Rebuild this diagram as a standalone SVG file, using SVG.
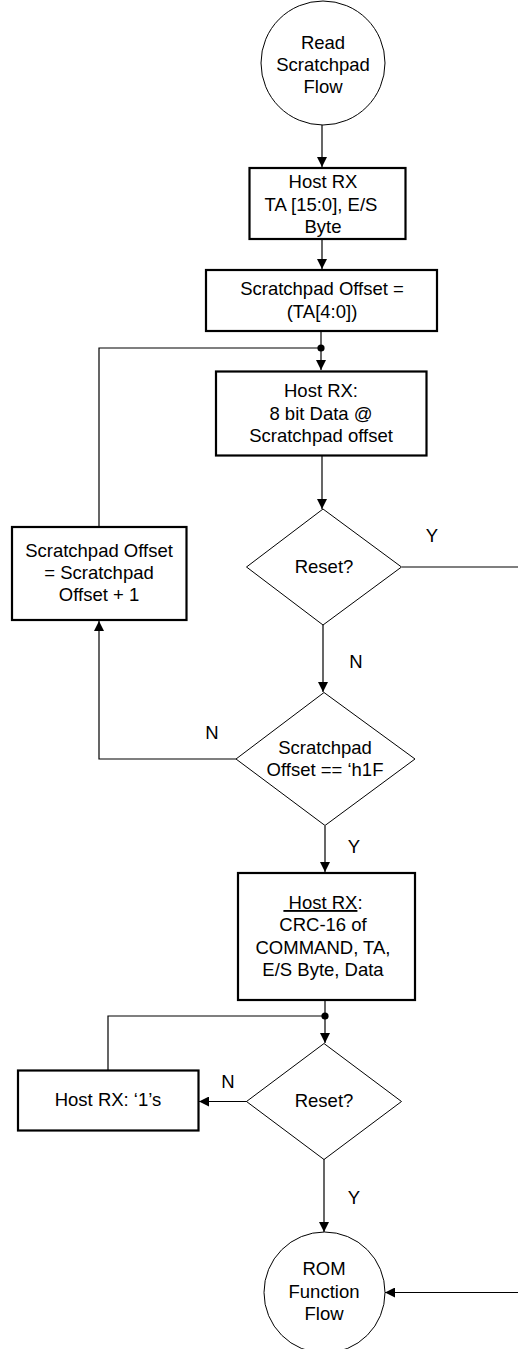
<svg xmlns="http://www.w3.org/2000/svg" width="518" height="1349" viewBox="0 0 518 1349">
<style>
text{font-family:"Liberation Sans",Arial,Helvetica,sans-serif;font-size:18.5px;fill:#000;text-anchor:middle}
.box{fill:#fff;stroke:#000;stroke-width:2.2}
.thin{fill:#fff;stroke:#000;stroke-width:1}
.ln{fill:none;stroke:#000;stroke-width:1.2}
</style>
<defs>
<marker id="ah" viewBox="0 0 10 10" refX="10" refY="5" markerWidth="10" markerHeight="10" markerUnits="userSpaceOnUse" orient="auto">
<path d="M0,0 L10,5 L0,10 Z" fill="#000"/>
</marker>
</defs>
<rect width="518" height="1349" fill="#fff"/>
<g id="connectors">
<line class="ln" x1="322" y1="125" x2="322" y2="167" marker-end="url(#ah)"/>
<line class="ln" x1="322" y1="239" x2="322" y2="269" marker-end="url(#ah)"/>
<line class="ln" x1="321" y1="331" x2="321" y2="370" marker-end="url(#ah)"/>
<polyline class="ln" points="99,527 99,348 321,348"/>
<circle cx="321" cy="348" r="3.6" fill="#000"/>
<line class="ln" x1="322" y1="456" x2="322" y2="509" marker-end="url(#ah)"/>
<line class="ln" x1="402" y1="567" x2="518" y2="567"/>
<line class="ln" x1="323" y1="625" x2="323" y2="692" marker-end="url(#ah)"/>
<polyline class="ln" points="236,759 99,759 99,621" marker-end="url(#ah)"/>
<line class="ln" x1="325" y1="826" x2="325" y2="872" marker-end="url(#ah)"/>
<line class="ln" x1="325" y1="1000" x2="325" y2="1043" marker-end="url(#ah)"/>
<polyline class="ln" points="108,1070 108,1016 325,1016"/>
<circle cx="325" cy="1016" r="3.6" fill="#000"/>
<line class="ln" x1="247" y1="1101.5" x2="199" y2="1101.5" marker-end="url(#ah)"/>
<line class="ln" x1="324" y1="1159" x2="324" y2="1232" marker-end="url(#ah)"/>
<line class="ln" x1="518" y1="1292.5" x2="385" y2="1292.5" marker-end="url(#ah)"/>
<text x="432" y="542">Y</text>
<text x="356" y="668">N</text>
<text x="212" y="739">N</text>
<text x="354" y="853">Y</text>
<text x="228" y="1088">N</text>
<text x="354" y="1204">Y</text>
</g>
<g id="start">
<circle class="thin" cx="323" cy="63" r="62"/>
<text x="323" y="49">Read</text>
<text x="323" y="71">Scratchpad</text>
<text x="323" y="93">Flow</text>
</g>
<g id="host-rx-ta">
<rect class="box" x="249.5" y="168" width="156" height="71"/>
<text x="323" y="188">Host RX</text>
<text x="321" y="211">TA [15:0], E/S</text>
<text x="323" y="233">Byte</text>
</g>
<g id="offset-init">
<rect class="box" x="206" y="270" width="231" height="61"/>
<text x="322" y="295">Scratchpad Offset =</text>
<text x="322" y="318">(TA[4:0])</text>
</g>
<g id="host-rx-data">
<rect class="box" x="216" y="371.5" width="210.5" height="84"/>
<text x="321" y="397">Host RX:</text>
<text x="321" y="420">8 bit Data @</text>
<text x="321" y="442">Scratchpad offset</text>
</g>
<g id="reset1">
<polygon class="thin" points="323,509 401.5,567 323,625 246.5,567"/>
<text x="324" y="573">Reset?</text>
</g>
<g id="offset-inc">
<rect class="box" x="12" y="527" width="174.5" height="93"/>
<text x="99" y="557">Scratchpad Offset</text>
<text x="99" y="579">= Scratchpad</text>
<text x="99" y="601">Offset + 1</text>
</g>
<g id="offset-check">
<polygon class="thin" points="324,692.5 415,759 325,825.5 236,759"/>
<text x="325" y="754">Scratchpad</text>
<text x="325" y="776">Offset == ‘h1F</text>
</g>
<g id="host-rx-crc">
<rect class="box" x="238" y="873" width="177" height="127"/>
<text x="323" y="909" xml:space="preserve"><tspan text-decoration="underline"> Host RX</tspan>:</text>
<text x="323" y="931">CRC-16 of</text>
<text x="323" y="954">COMMAND, TA,</text>
<text x="323" y="976">E/S Byte, Data</text>
</g>
<g id="host-rx-ones">
<rect class="box" x="18" y="1070.5" width="180.5" height="60"/>
<text x="108" y="1106">Host RX: ‘1’s</text>
</g>
<g id="reset2">
<polygon class="thin" points="324,1043.5 401.5,1101.5 324,1159.5 246.5,1101.5"/>
<text x="324" y="1107">Reset?</text>
</g>
<g id="end">
<circle class="thin" cx="324.5" cy="1292.5" r="60.5"/>
<text x="324" y="1275">ROM</text>
<text x="324" y="1298">Function</text>
<text x="324" y="1320">Flow</text>
</g>
</svg>
